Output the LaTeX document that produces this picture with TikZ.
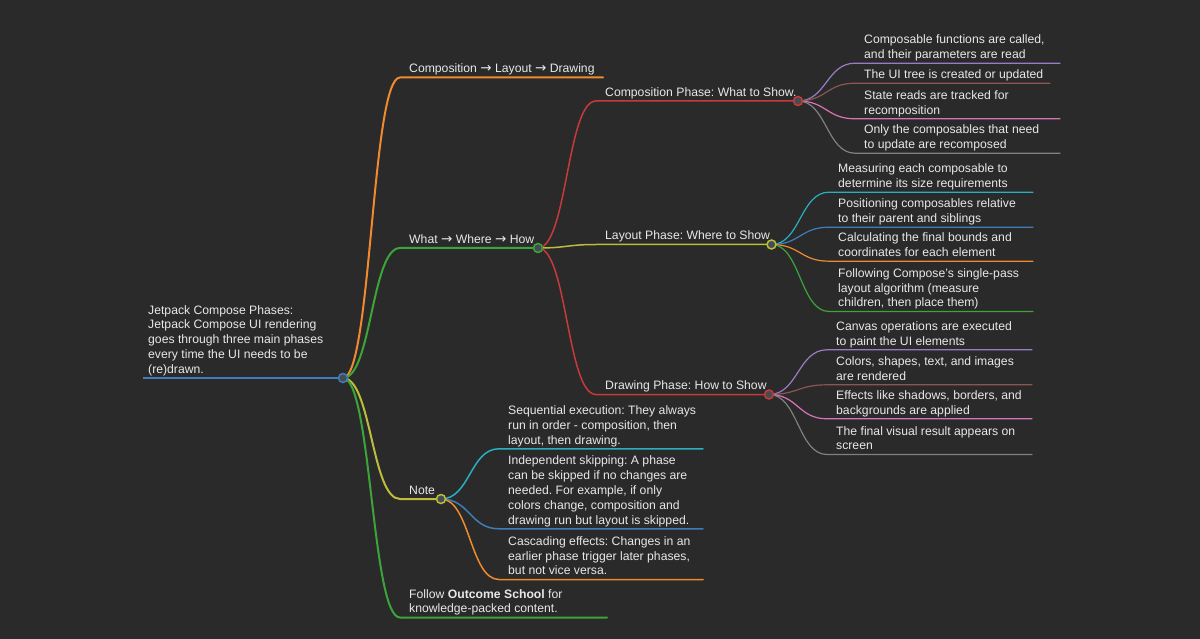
\documentclass[tikz,border=0pt]{standalone}
\usepackage{fontspec}
\setmainfont{Liberation Sans}
\newfontfamily\arrowfont{DejaVu Sans}
\usetikzlibrary{calc,backgrounds}
\definecolor{canvas}{HTML}{2A2A2B}
\definecolor{inktext}{HTML}{E8E8E8}
\definecolor{dotfill}{HTML}{464C54}
\definecolor{mmblue}{HTML}{3F7DB8}
\definecolor{mmorange}{HTML}{F08A2E}
\definecolor{mmgreen}{HTML}{3DA43A}
\definecolor{mmred}{HTML}{C83A3A}
\definecolor{mmpurple}{HTML}{9A7CC4}
\definecolor{mmbrown}{HTML}{8C5550}
\definecolor{mmpink}{HTML}{D873B8}
\definecolor{mmgray}{HTML}{808080}
\definecolor{mmolive}{HTML}{BCBD3A}
\definecolor{mmcyan}{HTML}{2AAFC0}
\newcommand{\thento}{{\arrowfont\fontsize{13.5}{14.8}\selectfont →}}
\frenchspacing

\begin{document}
\begin{tikzpicture}[x=1pt, y=-1pt,
  topic/.style={anchor=south west, inner xsep=9pt, inner ysep=0pt, align=left, text=inktext,
    font={\fontsize{12.2}{14.8}\selectfont}, execute at end node=\strut},
  dot/.style={circle, draw=#1, fill=dotfill, line width=1.5pt, inner sep=0pt, minimum size=9pt},
  link/.style={draw=#1, line cap=round, to path={let \p1=(\tikztostart), \p2=(\tikztotarget) in
    .. controls ({(\x1+\x2)/2},\y1) and ({(\x1+\x2)/2},\y2) .. (\tikztotarget)}},
  lvlroot/.style={line width=2.5pt},
  lvlone/.style={line width=2pt},
  lvltwo/.style={line width=1.5pt},
  lvlthree/.style={line width=1.2pt}
]
  \useasboundingbox (0,0) rectangle (1200,639);
  \begin{scope}[on background layer]
    \fill[canvas] (0,0) rectangle (1200,639);
  \end{scope}

  % Root
  \node[topic, inner xsep=5pt] (root) at (143,378) {Jetpack Compose Phases:\\Jetpack Compose UI rendering\\goes through three main phases\\every time the UI needs to be\\(re)drawn.};

  % First level
  \node[topic] (order) at (400,77.5) {Composition \thento{} Layout \thento{} Drawing};
  \node[topic] (what) at (400,248) {What \thento{} Where \thento{} How};
  \node[topic] (note) at (400,499) {Note};
  \node[topic] (follow) at (400,617.5) {Follow \textbf{Outcome School} for\\knowledge-packed content.};

  % Phases
  \node[topic] (compph) at (596,101) {Composition Phase: What to Show.};
  \node[topic] (layph) at (596,244.5) {Layout Phase: Where to Show};
  \node[topic] (drawph) at (596,394.5) {Drawing Phase: How to Show};

  % Composition details
  \node[topic] (compa) at (855,63.2) {Composable functions are called,\\and their parameters are read};
  \node[topic] (compb) at (855,83.2) {The UI tree is created or updated};
  \node[topic] (compc) at (855,118.8) {State reads are tracked for\\recomposition};
  \node[topic] (compd) at (855,153.2) {Only the composables that need\\to update are recomposed};

  % Layout details
  \node[topic] (laya) at (829,192.2) {Measuring each composable to\\determine its size requirements};
  \node[topic] (layb) at (829,227.2) {Positioning composables relative\\to their parent and siblings};
  \node[topic] (layc) at (829,261.2) {Calculating the final bounds and\\coordinates for each element};
  \node[topic] (layd) at (829,311.5) {Following Compose's single-pass\\layout algorithm (measure\\children, then place them)};

  % Drawing details
  \node[topic] (drwa) at (827,349.8) {Canvas operations are executed\\to paint the UI elements};
  \node[topic] (drwb) at (827,384.8) {Colors, shapes, text, and images\\are rendered};
  \node[topic] (drwc) at (827,418.8) {Effects like shadows, borders, and\\backgrounds are applied};
  \node[topic] (drwd) at (827,454.5) {The final visual result appears on\\screen};

  % Note details
  \node[topic] (notea) at (499,448.8) {Sequential execution: They always\\run in order - composition, then\\layout, then drawing.};
  \node[topic] (noteb) at (499,528.8) {Independent skipping: A phase\\can be skipped if no changes are\\needed. For example, if only\\colors change, composition and\\drawing run but layout is skipped.};
  \node[topic] (notec) at (499,579.5) {Cascading effects: Changes in an\\earlier phase trigger later phases,\\but not vice versa.};

  % Junction dots
  \node[dot=mmblue] (rootdot) at ([xshift=200pt]root.south west) {};
  \node[dot=mmgreen] (whatdot) at ([xshift=138pt]what.south west) {};
  \node[dot=mmolive] (notedot) at ([xshift=41pt]note.south west) {};
  \node[dot=mmred] (compdot) at ([xshift=202pt]compph.south west) {};
  \node[dot=mmolive] (laydot) at ([xshift=175.5pt]layph.south west) {};
  \node[dot=mmred] (drawdot) at ([xshift=173pt]drawph.south west) {};

  % Links
  \begin{scope}[on background layer]
    \draw[lvlroot, mmblue] (root.south west) -- (rootdot.center);
    \draw[link=mmorange, lvlone] (rootdot.center) to (order.south west) -- ++(203,0);
    \draw[link=mmgreen, lvlone] (rootdot.center) to (what.south west) -- (whatdot.center);
    \draw[link=mmolive, lvlone] (rootdot.center) to (note.south west) -- (notedot.center);
    \draw[link=mmgreen, lvlone] (rootdot.center) to (follow.south west) -- ++(207,0);

    \draw[link=mmred, lvltwo] (whatdot.center) to (compph.south west) -- (compdot.center);
    \draw[link=mmolive, lvltwo] (whatdot.center) to (layph.south west) -- (laydot.center);
    \draw[link=mmred, lvltwo] (whatdot.center) to (drawph.south west) -- (drawdot.center);

    \draw[link=mmpurple, lvlthree] (compdot.center) to (compa.south west) -- ++(205,0);
    \draw[link=mmbrown, lvlthree] (compdot.center) to (compb.south west) -- ++(195,0);
    \draw[link=mmpink, lvlthree] (compdot.center) to (compc.south west) -- ++(205,0);
    \draw[link=mmgray, lvlthree] (compdot.center) to (compd.south west) -- ++(205,0);

    \draw[link=mmcyan, lvlthree] (laydot.center) to (laya.south west) -- ++(204,0);
    \draw[link=mmblue, lvlthree] (laydot.center) to (layb.south west) -- ++(204,0);
    \draw[link=mmorange, lvlthree] (laydot.center) to (layc.south west) -- ++(204,0);
    \draw[link=mmgreen, lvlthree] (laydot.center) to (layd.south west) -- ++(204,0);

    \draw[link=mmpurple, lvlthree] (drawdot.center) to (drwa.south west) -- ++(205,0);
    \draw[link=mmbrown, lvlthree] (drawdot.center) to (drwb.south west) -- ++(205,0);
    \draw[link=mmpink, lvlthree] (drawdot.center) to (drwc.south west) -- ++(205,0);
    \draw[link=mmgray, lvlthree] (drawdot.center) to (drwd.south west) -- ++(205,0);

    \draw[link=mmcyan, lvltwo] (notedot.center) to (notea.south west) -- ++(204,0);
    \draw[link=mmblue, lvltwo] (notedot.center) to (noteb.south west) -- ++(204,0);
    \draw[link=mmorange, lvltwo] (notedot.center) to (notec.south west) -- ++(204,0);
  \end{scope}
\end{tikzpicture}
\end{document}
